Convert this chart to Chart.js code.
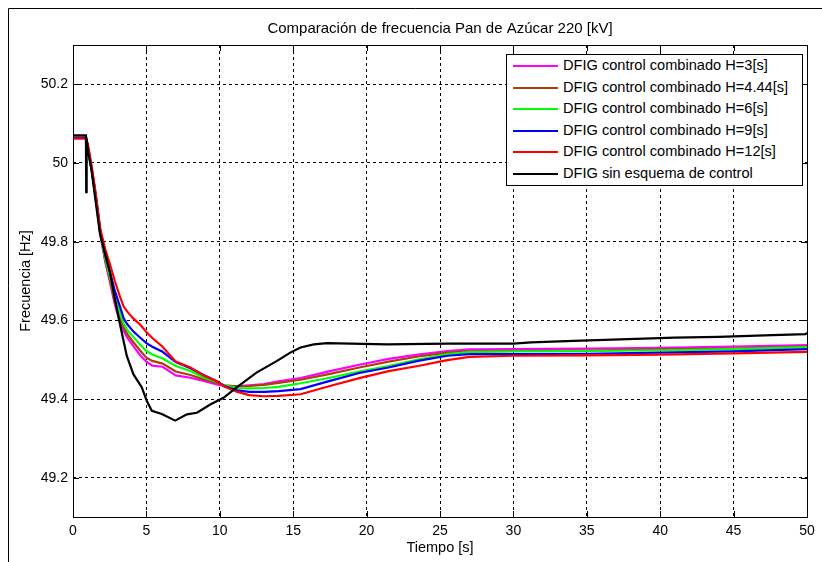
<!DOCTYPE html>
<html>
<head>
<meta charset="utf-8">
<script src="https://cdn.jsdelivr.net/npm/chart.js@4.4.1/dist/chart.umd.min.js"></script>
<style>
  body { margin: 0; background: #fff; }
  #wrap { position: relative; width: 822px; height: 562px; }
  #legend {
    position: absolute; left: 506px; top: 54px; width: 297px; height: 132px;
    box-sizing: border-box; border: 1px solid #000; background: #fff;
    font-family: "Liberation Sans", Arial, sans-serif; font-size: 14.6px; color: #000;
  }
  #legend .row { position: relative; height: 21.5px; line-height: 21.5px; }
  #legend .row span.swatch { position: absolute; left: 6px; top: 10px; width: 45px; height: 2px; }
  #legend .row span.txt { position: absolute; left: 56px; top: 0; white-space: nowrap; }
</style>
</head>
<body>
<div id="wrap">
  <canvas id="freqChart" width="822" height="562"></canvas>
  <div id="legend"></div>
</div>
<script>
// time axis of the five controlled runs [s]
const T_CTRL = [0, 0.9, 1.05, 1.3, 1.55, 1.85, 2.2, 2.5, 2.85, 3.2, 3.45, 3.7, 4.1, 4.6, 5.0, 5.4,
  6.1, 7.0, 8.0, 8.9, 9.8, 10.3, 11.2, 12.0, 13.0, 14.0, 15.5, 17.5, 19.5, 21.5, 23.5, 25.5,
  27, 30, 35, 40, 45, 50];

// frequency [Hz] for each inertia constant
const F_H3 = [50.064, 50.064, 50.03, 49.975, 49.91, 49.82, 49.748, 49.700, 49.640, 49.595, 49.573,
  49.556, 49.535, 49.51, 49.495, 49.485, 49.482, 49.46, 49.454, 49.446, 49.437, 49.433, 49.433,
  49.435, 49.438, 49.445, 49.453, 49.471, 49.487, 49.502, 49.513, 49.522, 49.526, 49.527, 49.528,
  49.530, 49.533, 49.537];
const F_H444 = [50.064, 50.064, 50.03, 49.975, 49.912, 49.822, 49.752, 49.706, 49.648, 49.604, 49.582,
  49.565, 49.545, 49.522, 49.505, 49.497, 49.49, 49.47, 49.461, 49.45, 49.441, 49.435, 49.432,
  49.433, 49.436, 49.441, 49.449, 49.464, 49.48, 49.495, 49.508, 49.518, 49.521, 49.522, 49.523,
  49.526, 49.528, 49.533];
const F_H6 = [50.064, 50.064, 50.03, 49.978, 49.915, 49.826, 49.758, 49.714, 49.660, 49.618, 49.592,
  49.575, 49.558, 49.537, 49.522, 49.513, 49.503, 49.484, 49.471, 49.455, 49.443, 49.435, 49.428,
  49.427, 49.428, 49.431, 49.44, 49.454, 49.47, 49.484, 49.50, 49.514, 49.519, 49.521, 49.522,
  49.524, 49.527, 49.532];
const F_H9 = [50.064, 50.064, 50.035, 49.98, 49.918, 49.83, 49.765, 49.725, 49.675, 49.635, 49.605,
  49.59, 49.572, 49.555, 49.542, 49.533, 49.52, 49.494, 49.478, 49.461, 49.445, 49.433, 49.422,
  49.418, 49.418, 49.42, 49.425, 49.446, 49.466, 49.48, 49.497, 49.51, 49.514, 49.514, 49.515,
  49.518, 49.521, 49.527];
const F_H12 = [50.062, 50.062, 50.04, 49.985, 49.922, 49.835, 49.78, 49.745, 49.70, 49.66, 49.635,
  49.622, 49.605, 49.588, 49.57, 49.555, 49.533, 49.495, 49.48, 49.46, 49.445, 49.432, 49.418,
  49.41, 49.407, 49.408, 49.412, 49.433, 49.453, 49.471, 49.484, 49.499, 49.507, 49.510, 49.511,
  49.513, 49.516, 49.520];

// run without control scheme
const T_BASE = [0, 0.88, 0.9, 0.93, 1.05, 1.27, 1.5, 1.84, 2.5, 2.85, 3.2, 3.66, 4.11, 4.68, 5.03,
  5.37, 6.05, 6.96, 7.76, 8.44, 9.35, 10.25, 11.17, 12.5, 13.9, 14.8, 15.5, 16.4, 17.3, 21.4, 25.5,
  30, 31.2, 34.1, 37.8, 41, 44, 47.1, 49.9, 50];
const F_BASE = [50.07, 50.07, 49.926, 50.06, 50.025, 49.98, 49.914, 49.82, 49.725, 49.655, 49.59,
  49.51, 49.463, 49.43, 49.395, 49.37, 49.362, 49.345, 49.361, 49.365, 49.386, 49.403, 49.43,
  49.467, 49.497, 49.518, 49.531, 49.539, 49.542, 49.539, 49.541, 49.541, 49.544, 49.548, 49.552,
  49.556, 49.558, 49.562, 49.565, 49.568];

const LABELS = [
  "DFIG control combinado H=3[s]",
  "DFIG control combinado H=4.44[s]",
  "DFIG control combinado H=6[s]",
  "DFIG control combinado H=9[s]",
  "DFIG control combinado H=12[s]",
  "DFIG sin esquema de control"
];
const COLORS = ["#ff00ff", "#a8400c", "#00ff00", "#0000ff", "#ff0000", "#000000"];
const Y_TICKS = [49.2, 49.4, 49.6, 49.8, 50, 50.2];

const FONT = "'Liberation Sans', Arial, sans-serif";

function toPoints(ts, fs) {
  return ts.map((t, i) => ({ x: t, y: fs[i] }));
}

const seriesData = [
  toPoints(T_CTRL, F_H3),
  toPoints(T_CTRL, F_H444),
  toPoints(T_CTRL, F_H6),
  toPoints(T_CTRL, F_H9),
  toPoints(T_CTRL, F_H12),
  toPoints(T_BASE, F_BASE)
];

// box around the axes, inward ticks and the figure edge
const framePlugin = {
  id: 'frame',
  afterDatasetsDraw(chart) {
    const { ctx, chartArea: a, scales } = chart;
    ctx.save();
    ctx.strokeStyle = '#000';
    ctx.lineWidth = 1;
    ctx.setLineDash([]);
    ctx.strokeRect(Math.round(a.left) + 0.5, Math.round(a.top) + 0.5,
      Math.round(a.right - a.left), Math.round(a.bottom - a.top));
    ctx.beginPath();
    scales.x.ticks.forEach(t => {
      const px = Math.round(scales.x.getPixelForValue(t.value)) + 0.5;
      ctx.moveTo(px, a.bottom); ctx.lineTo(px, a.bottom - 6);
      ctx.moveTo(px, a.top); ctx.lineTo(px, a.top + 6);
    });
    scales.y.ticks.forEach(t => {
      const py = Math.round(scales.y.getPixelForValue(t.value)) + 0.5;
      ctx.moveTo(a.left, py); ctx.lineTo(a.left + 6, py);
      ctx.moveTo(a.right, py); ctx.lineTo(a.right - 6, py);
    });
    // figure edge
    ctx.moveTo(8.5, 562); ctx.lineTo(8.5, 8.5); ctx.lineTo(822, 8.5);
    ctx.stroke();
    ctx.restore();
  }
};

const ctx = document.getElementById('freqChart').getContext('2d');
const chart = new Chart(ctx, {
  type: 'line',
  data: {
    datasets: seriesData.map((d, i) => ({
      label: LABELS[i],
      data: d,
      borderColor: COLORS[i],
      backgroundColor: COLORS[i],
      borderWidth: 2.2,
      pointRadius: 0,
      tension: 0,
      fill: false,
      order: LABELS.length - i
    }))
  },
  options: {
    responsive: false,
    animation: false,
    devicePixelRatio: 1,
    layout: { padding: { left: 12, right: 15, top: 0, bottom: 0 } },
    scales: {
      x: {
        type: 'linear',
        min: 0, max: 50,
        afterFit(scale) { scale.height = 45; },
        ticks: { stepSize: 5, color: '#000', padding: 6, font: { family: FONT, size: 14 } },
        grid: { color: '#000', lineWidth: 1, drawTicks: false },
        border: { display: false, dash: [3, 3] },
        title: { display: true, text: 'Tiempo [s]', color: '#000', padding: { top: 5, bottom: 5 },
          font: { family: FONT, size: 14.5 } }
      },
      y: {
        type: 'linear',
        min: 49.1, max: 50.3,
        afterFit(scale) { scale.width = 61; },
        afterBuildTicks(scale) { scale.ticks = Y_TICKS.map(v => ({ value: v })); },
        ticks: {
          color: '#000', padding: 5, font: { family: FONT, size: 14 },
          callback: v => String(Math.round(v * 10) / 10)
        },
        grid: { color: '#000', lineWidth: 1, drawTicks: false },
        border: { display: false, dash: [3, 3] },
        title: { display: true, text: 'Frecuencia [Hz]', color: '#000', padding: { top: 5, bottom: 5 },
          font: { family: FONT, size: 14.5 } }
      }
    },
    plugins: {
      legend: { display: false },
      tooltip: { enabled: false },
      title: {
        display: true,
        fullSize: false,
        text: 'Comparación de frecuencia Pan de Azúcar 220 [kV]',
        color: '#000',
        font: { family: FONT, size: 15, weight: 'normal' },
        padding: { top: 20, bottom: 7 }
      }
    }
  },
  plugins: [framePlugin]
});

// legend inside the axes, built from the datasets
const legendEl = document.getElementById('legend');
chart.data.datasets.forEach(ds => {
  const row = document.createElement('div');
  row.className = 'row';
  row.innerHTML = '<span class="swatch" style="background:' + ds.borderColor + '"></span>' +
    '<span class="txt"></span>';
  row.querySelector('.txt').textContent = ds.label;
  legendEl.appendChild(row);
});
</script>
</body>
</html>
